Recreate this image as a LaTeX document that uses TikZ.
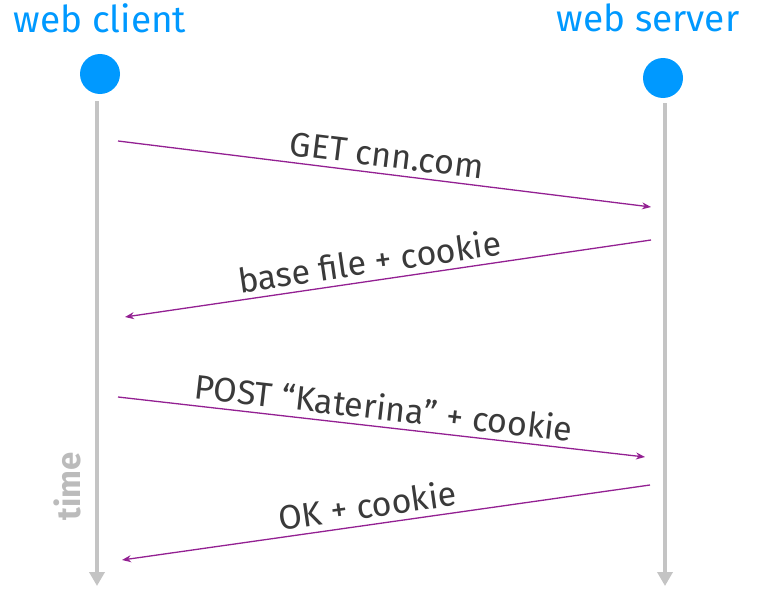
\documentclass[tikz,border=0pt]{standalone}
\usepackage{fontspec}
\setmainfont{Fira Sans}
\usetikzlibrary{arrows.meta}
\definecolor{hostblue}{HTML}{0099FF}
\definecolor{msgpurple}{HTML}{932092}
\definecolor{linegray}{HTML}{C4C4C4}
\definecolor{labelgray}{HTML}{3A3A3A}
\definecolor{timegray}{HTML}{BBBBBB}
\begin{document}
\begin{tikzpicture}[x=1pt,y=-1pt,
    host/.style={text=hostblue,font=\fontsize{37}{42}\selectfont},
    hostdot/.style={circle,fill=hostblue,minimum size=40pt,inner sep=0pt},
    timeline/.style={linegray,line width=4pt,-{Triangle[width=15pt,length=14pt]}},
    msg/.style={msgpurple,line width=1.3pt,-{Stealth[length=9pt,width=7pt]}},
    msglabel/.style={text=labelgray,font=\fontsize{34}{38}\selectfont,sloped,above,inner sep=6pt}]
    \useasboundingbox (0,0) rectangle (760,594);
    % hosts
    \node[host] (client) at (100,18) {web client};
    \node[host] (server) at (648,18) {web server};
    \node[hostdot] (clientdot) at (100,74) {};
    \node[hostdot] (serverdot) at (663,78) {};
    % time lines
    \coordinate (clienttop) at (97,101);
    \coordinate (clientbot) at (97,586);
    \coordinate (servertop) at (665,103);
    \coordinate (serverbot) at (665,586);
    \draw[timeline] (clienttop) -- (clientbot);
    \draw[timeline] (servertop) -- (serverbot);
    \node[text=timegray,rotate=90,font=\fontsize{33}{38}\selectfont\bfseries] (time) at (67,486) {time};
    % messages
    \coordinate (get0) at (118,141);
    \coordinate (get1) at (651,207);
    \coordinate (base0) at (651,240);
    \coordinate (base1) at (125,317);
    \coordinate (post0) at (118,397);
    \coordinate (post1) at (645,457);
    \coordinate (ok0) at (650,485);
    \coordinate (ok1) at (122,560);
    \draw[msg] (get0) -- node[msglabel,pos=0.5] {GET cnn.com} (get1);
    \draw[msg] (base0) -- node[msglabel,pos=0.53] {base file + cookie} (base1);
    \draw[msg] (post0) -- node[msglabel,pos=0.5] {POST “Katerina” + cookie} (post1);
    \draw[msg] (ok0) -- node[msglabel,pos=0.53] {OK + cookie} (ok1);
\end{tikzpicture}
\end{document}
